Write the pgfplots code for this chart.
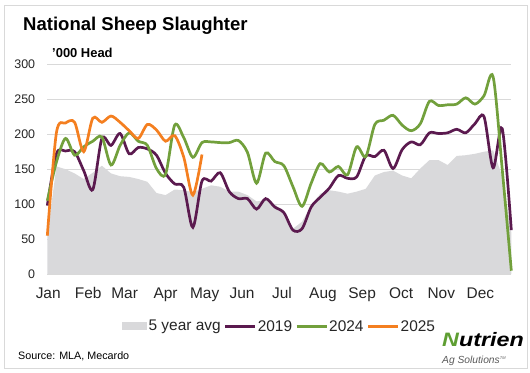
\documentclass[border=0pt]{standalone}
\usepackage{pgfplots}
\usepackage{pgfplotstable}
\pgfplotsset{compat=1.18}
\usepackage{fontspec}
\setmainfont{Liberation Sans}
\definecolor{c2019}{HTML}{5B1A4F}
\definecolor{c2024}{HTML}{72A03C}
\definecolor{c2025}{HTML}{F47F20}
\definecolor{cavg}{HTML}{D9D9DB}
\definecolor{gridc}{HTML}{D9D9D9}
\definecolor{framec}{HTML}{D9D9D9}
\definecolor{txt}{HTML}{262626}
\definecolor{nutgreen}{HTML}{5E9E32}

\pgfplotstableread{
w avg
1 55
2 154
3 150
4 144
5 136
6 145
7 155
8 144
9 140
10 139
11 136
12 132
13 116
14 113
15 121
16 120
17 117
18 122
19 127
20 125
21 118
22 118
23 113
24 104
25 106
26 100
27 89
28 65
29 75
30 98
31 115
32 120
33 118
34 115
35 118
36 122
37 141
38 146
39 148
40 141
41 137
42 151
43 163
44 163
45 156
46 169
47 170
48 172
49 175
50 177
51 140
52 60
}\avgdata

\pgfplotstableread{
w v
1 98
2 172
3 176
4 175
5 148
6 121
7 194
8 184
9 201
10 172
11 181
12 179
13 170
14 144
15 129
16 124
17 67
18 133
19 133
20 145
21 118
22 108
23 108
24 93
25 108
26 96
27 88
28 63
29 65
30 96
31 110
32 123
33 141
34 137
35 139
36 169
37 168
38 177
39 151
40 178
41 189
42 185
43 202
44 201
45 202
46 207
47 202
48 215
49 225
50 152
51 208
52 63
}\dataA

\pgfplotstableread{
w v
1 105
2 160
3 194
4 170
5 182
6 190
7 196
8 156
9 184
10 202
11 190
12 184
13 151
14 143
15 213
16 195
17 167
18 188
19 189
20 188
21 188
22 191
23 174
24 130
25 173
26 161
27 155
28 125
29 97
30 130
31 158
32 146
33 154
34 142
35 182
36 168
37 214
38 220
39 227
40 213
41 205
42 215
43 247
44 241
45 242
46 243
47 252
48 243
49 255
50 282
51 150
52 5
}\dataB

\pgfplotstableread{
w v
1 55
2 202
3 216
4 217
5 175
6 223
7 217
8 226
9 217
10 205
11 194
12 214
13 206
14 190
15 198
16 167
17 113
18 171
}\dataC

\begin{document}
\begin{tikzpicture}[x=1bp,y=1bp]
\useasboundingbox (0,0) rectangle (530,372);
\draw[framec, line width=1bp] (4,4) rectangle (527,366);
\node[anchor=base west, inner sep=0, font=\fontsize{18.6}{20}\selectfont\bfseries, text=black] at (23,342) {National Sheep Slaughter};
\node[anchor=base west, inner sep=0, font=\fontsize{13}{14}\selectfont\bfseries, text=black] at (52,315) {'000 Head};
\begin{axis}[
  at={(52,139.7)}, anchor=south west,
  scale only axis, width=464bp, height=210bp,
  xmin=1, xmax=52, ymin=0, ymax=300,
  ytick={0,50,...,300},
  xtick={1.1,5.5,9.5,14.0,18.3,22.4,26.8,31.3,35.6,39.9,44.3,48.6},
  xticklabels={Jan,Feb,Mar,Apr,May,Jun,Jul,Aug,Sep,Oct,Nov,Dec},
  ymajorgrids, grid style={gridc, line width=0.9bp},
  axis line style={draw=none},
  major tick length=0pt, tick style={draw=none},
  /pgf/number format/assume math mode=true,
  yticklabel style={font=\fontsize{12.5}{13}\selectfont, text=txt, anchor=east, inner sep=0pt, xshift=-12bp},
  xticklabel style={font=\fontsize{15.5}{16}\selectfont, text=txt, anchor=base, inner sep=0pt, yshift=-24.5bp},
  legend columns=4,
  legend style={at={(0.5,-0.2486)}, anchor=center, draw=none, fill=none,
    font=\fontsize{15.5}{16}\selectfont, text=txt,
    /tikz/every even column/.append style={column sep=2bp},
    nodes={inner sep=1.2bp}},
  clip=false,
]
\addplot[fill=cavg, draw=none,
  legend image code/.code={\fill[cavg] (0bp,-4bp) rectangle (25bp,4bp);}]
  table[x=w, y=avg] {\avgdata} \closedcycle;
\addlegendentry{5 year avg}
\addplot[c2019, line width=2.7bp, smooth, tension=0.5,
  legend image code/.code={\draw[c2019, line width=2.7bp] (0bp,0bp) -- (30bp,0bp);}]
  table[x=w, y=v] {\dataA};
\addlegendentry{2019}
\addplot[c2024, line width=2.7bp, smooth, tension=0.5,
  legend image code/.code={\draw[c2024, line width=2.7bp] (0bp,0bp) -- (30bp,0bp);}]
  table[x=w, y=v] {\dataB};
\addlegendentry{2024}
\addplot[c2025, line width=2.7bp, smooth, tension=0.5,
  legend image code/.code={\draw[c2025, line width=2.7bp] (0bp,0bp) -- (30bp,0bp);}]
  table[x=w, y=v] {\dataC};
\addlegendentry{2025}
\end{axis}
\node[anchor=base west, inner sep=0, font=\fontsize{10.8}{12}\selectfont, text=black] at (18,13) {Source: MLA, Mecardo};
\node[anchor=base west, inner sep=0, font=\fontsize{19.5}{20}\selectfont\bfseries\itshape, xscale=1.2] at (442,26) {\textcolor{nutgreen}{N}utrien};
\node[anchor=base west, inner sep=0, font=\fontsize{10.3}{11}\selectfont\itshape, text=black!65] at (442,9) {Ag Solutions\raisebox{0.6ex}{\fontsize{4}{4}\selectfont TM}};
\end{tikzpicture}
\end{document}
